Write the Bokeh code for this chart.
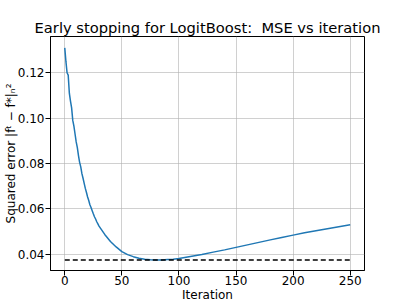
from bokeh.plotting import figure
from bokeh.models import Range1d, FixedTicker, PrintfTickFormatter
from bokeh.embed import file_html
from bokeh.resources import INLINE

iterations = [0, 1, 2, 3, 4, 5, 6, 7, 8, 9, 10, 11, 12, 13, 14, 15, 16, 17, 18, 19, 20,
              21, 22, 23, 24, 25, 26, 27, 28, 29, 30, 35, 40, 45, 50, 55, 60, 65, 70, 75,
              80, 85, 90, 95, 100, 110, 120, 130, 140, 150, 160, 170, 180, 190, 200,
              210, 220, 230, 240, 250]
mse = [0.1310, 0.1250, 0.1200, 0.1190, 0.1110, 0.1075, 0.1045, 0.0990, 0.0965, 0.0930,
       0.0895, 0.0870, 0.0835, 0.0805, 0.0785, 0.0755, 0.0735, 0.0712, 0.0690, 0.0672,
       0.0652, 0.0637, 0.0618, 0.0606, 0.0592, 0.0578, 0.0565, 0.0555, 0.0543, 0.0534,
       0.0524, 0.0487, 0.0456, 0.0432, 0.0411, 0.0398, 0.0389, 0.0382, 0.0378, 0.0375,
       0.0374, 0.0374, 0.0376, 0.0378, 0.0381, 0.0390, 0.0399, 0.0409, 0.0419, 0.0430,
       0.0441, 0.0452, 0.0463, 0.0474, 0.0484, 0.0494, 0.0503, 0.0512, 0.0521, 0.0530]
best_x = [0, 250]
best_mse = [0.0374, 0.0374]
x_ticks = [0, 50, 100, 150, 200, 250]
y_ticks = [0.04, 0.06, 0.08, 0.10, 0.12]

p = figure(width=405, height=304, output_backend="svg", toolbar_location=None,
           title="Early stopping for LogitBoost:\u00a0 MSE vs iteration",
           x_range=Range1d(-12.5, 262.5), y_range=Range1d(0.0328, 0.136),
           min_border_left=50, min_border_right=41, min_border_top=36, min_border_bottom=34)

p.title.text_font = "DejaVu Sans"
p.title.text_font_size = "14.7px"
p.title.text_font_style = "normal"
p.title.align = "center"
p.title.text_color = "black"
p.title.standoff = 1

p.outline_line_color = "black"
p.outline_line_width = 1
p.background_fill_color = "white"
p.border_fill_color = "white"

for ax in (p.xaxis, p.yaxis):
    ax.axis_line_color = "black"
    ax.major_tick_line_color = "black"
    ax.major_tick_out = 5
    ax.major_tick_in = 0
    ax.minor_tick_line_color = None
    ax.major_label_text_font = "DejaVu Sans"
    ax.major_label_text_font_size = "12px"
    ax.major_label_text_color = "black"
    ax.axis_label_text_font = "DejaVu Sans"
    ax.axis_label_text_font_size = "12px"
    ax.axis_label_text_font_style = "normal"
    ax.axis_label_text_color = "black"

p.xaxis.ticker = FixedTicker(ticks=x_ticks)
p.yaxis.ticker = FixedTicker(ticks=y_ticks)
p.yaxis.formatter = PrintfTickFormatter(format="%.2f")
p.xaxis.major_label_standoff = 0
p.xaxis.axis_label_standoff = 0
p.yaxis.major_label_standoff = 1
p.yaxis.axis_label_standoff = -3
p.xaxis.axis_label = "Iteration"
p.yaxis.axis_label = "Squared error |f\u1d57 \u2212 f*|\u2099\u00b2"

p.xgrid.ticker = FixedTicker(ticks=x_ticks)
p.ygrid.ticker = FixedTicker(ticks=y_ticks)
p.grid.grid_line_color = "#b0b0b0"
p.grid.grid_line_alpha = 0.6
p.grid.grid_line_width = 1

p.line(iterations, mse, line_color="#1f77b4", line_width=1.5)
p.line(best_x, best_mse, line_color="black", line_width=1.5, line_dash="5 3")

open("out.html", "w").write(file_html(p, INLINE))
